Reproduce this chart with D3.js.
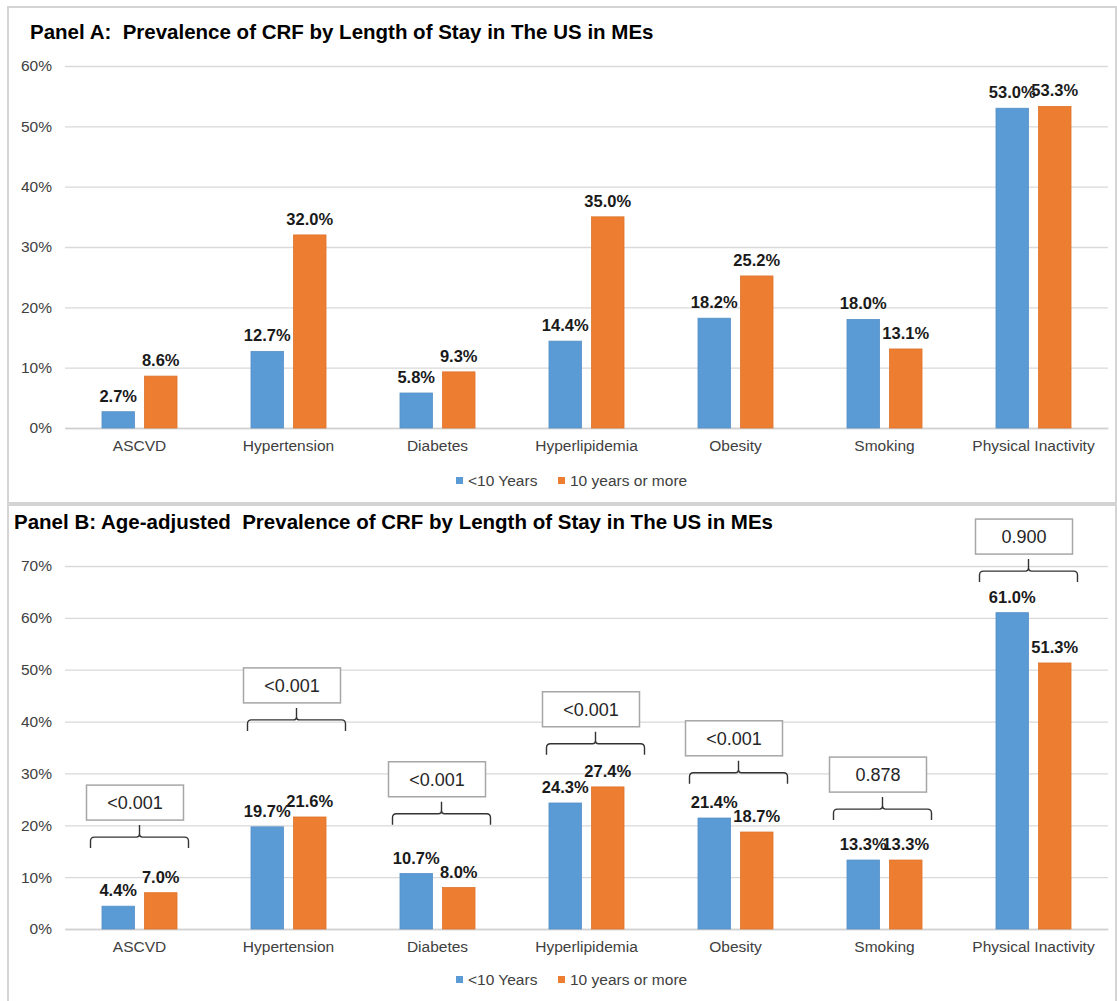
<!DOCTYPE html>
<html>
<head>
<meta charset="utf-8">
<script src="https://cdn.jsdelivr.net/npm/d3@7"></script>
<style>
  body { margin: 0; background: #fff; }
  svg { font-family: "Liberation Sans", Arial, sans-serif; }
</style>
</head>
<body>
<div id="chart"></div>
<script>
// data
const categories = ["ASCVD", "Hypertension", "Diabetes", "Hyperlipidemia", "Obesity", "Smoking", "Physical Inactivity"];
const seriesNames = ["<10 Years", "10 years or more"];

const panelA_lt10 = [2.7, 12.7, 5.8, 14.4, 18.2, 18.0, 53.0];
const panelA_ge10 = [8.6, 32.0, 9.3, 35.0, 25.2, 13.1, 53.3];

const panelB_lt10 = [4.4, 19.7, 10.7, 24.3, 21.4, 13.3, 61.0];
const panelB_ge10 = [7.0, 21.6, 8.0, 27.4, 18.7, 13.3, 51.3];

const pValues = ["<0.001", "<0.001", "<0.001", "<0.001", "<0.001", "0.878", "0.900"];
// level (in %) where the bracket tips sit, panel B
const bracketLevel = [15.6, 38.2, 20.1, 33.6, 28.0, 21.0, 66.9];
const bracketShift = [0, 8, 4, 9, 3, -2, -5];

const ticksA = [0, 10, 20, 30, 40, 50, 60];
const ticksB = [0, 10, 20, 30, 40, 50, 60, 70];

const colors = ["#5b9bd5", "#ed7d31"];

const W = 1117, H = 1001;

const svg = d3.select("#chart")
    .append("svg")
    .attr("width", W)
    .attr("height", H);

// panel frames
svg.append("rect")
    .attr("x", 8).attr("y", 7).attr("width", 1108).attr("height", 496)
    .attr("fill", "none").attr("stroke", "#d4d4d4").attr("stroke-width", 2);
svg.append("rect")
    .attr("x", 8).attr("y", 505).attr("width", 1108).attr("height", 497)
    .attr("fill", "none").attr("stroke", "#d4d4d4").attr("stroke-width", 2);

const x = d3.scaleBand()
    .domain(categories)
    .range([65, 1108]);

const x1 = d3.scaleBand()
    .domain(seriesNames)
    .range([0, x.bandwidth()])
    .paddingInner(0.235)
    .paddingOuter(0.87);

const drawPanel = (g, props) => {
    const { title, titleX, titleY, top, bottom, maxV, ticks, series, legendY } = props;

    const y = d3.scaleLinear()
        .domain([0, maxV])
        .range([bottom, top]);

    g.append("text")
        .attr("x", titleX)
        .attr("y", titleY)
        .attr("font-size", 20.5)
        .attr("font-weight", "bold")
        .attr("fill", "#000")
        .style("white-space", "pre")
        .text(title);

    // y axis + gridlines
    g.append("g")
        .attr("transform", `translate(65,0)`)
        .call(d3.axisLeft(y).tickValues(ticks).tickFormat(d => d + "%").tickSize(-(1108 - 65)).tickPadding(13))
        .call(g => g.select(".domain").remove())
        .call(g => g.selectAll(".tick line").attr("stroke", "#d9d9d9").attr("stroke-width", 1.3))
        .call(g => g.selectAll(".tick text")
            .attr("fill", "#404040")
            .attr("font-size", 15.5)
            .attr("font-family", "Liberation Sans, Arial, sans-serif"));

    // x axis
    g.append("g")
        .attr("transform", `translate(0,${bottom})`)
        .call(d3.axisBottom(x).tickSize(0).tickPadding(12))
        .call(g => g.select(".domain").attr("stroke", "#d0d0d0").attr("stroke-width", 1.3))
        .call(g => g.selectAll(".tick text")
            .attr("fill", "#404040")
            .attr("font-size", 15.5)
            .attr("font-family", "Liberation Sans, Arial, sans-serif"));

    const rows = categories.map((c, i) => ({
        cat: c,
        vals: series.map((s, j) => ({ name: seriesNames[j], v: s[i], j }))
    }));

    const groups = g.append("g")
        .selectAll("g")
        .data(rows)
        .join("g")
        .attr("transform", d => `translate(${x(d.cat)},0)`);

    groups.selectAll("rect")
        .data(d => d.vals)
        .join("rect")
        .attr("x", d => x1(d.name))
        .attr("y", d => y(d.v))
        .attr("width", x1.bandwidth())
        .attr("height", d => y(0) - y(d.v))
        .attr("fill", d => colors[d.j])
        .attr("stroke", d => d3.color(colors[d.j]).darker(0.2))
        .attr("stroke-width", 0.8);

    groups.selectAll("text.val")
        .data(d => d.vals)
        .join("text")
        .attr("class", "val")
        .attr("x", d => x1(d.name) + x1.bandwidth() / 2)
        .attr("y", d => y(d.v) - 10)
        .attr("text-anchor", "middle")
        .attr("font-size", 16.5)
        .attr("font-weight", "bold")
        .attr("fill", "#1a1a1a")
        .text(d => d.v.toFixed(1) + "%");

    // legend
    const legend = g.append("g").attr("transform", `translate(0,${legendY})`);
    const legendX = [456, 558];
    seriesNames.forEach((s, j) => {
        legend.append("rect")
            .attr("x", legendX[j]).attr("y", -4)
            .attr("width", 7).attr("height", 7)
            .attr("fill", colors[j]);
        legend.append("text")
            .attr("x", legendX[j] + 12)
            .attr("y", 5)
            .attr("font-size", 15.5)
            .attr("fill", "#404040")
            .text(s);
    });

    return y;
};

const gA = svg.append("g");
drawPanel(gA, {
    title: "Panel A:  Prevalence of CRF by Length of Stay in The US in MEs",
    titleX: 30, titleY: 39,
    top: 66, bottom: 428, maxV: 60, ticks: ticksA,
    series: [panelA_lt10, panelA_ge10],
    legendY: 481
});

const gB = svg.append("g");
const yB = drawPanel(gB, {
    title: "Panel B: Age-adjusted  Prevalence of CRF by Length of Stay in The US in MEs",
    titleX: 14, titleY: 529,
    top: 566, bottom: 929, maxV: 70, ticks: ticksB,
    series: [panelB_lt10, panelB_ge10],
    legendY: 980
});

// p-value brackets, panel B
const brackets = gB.append("g")
    .selectAll("g")
    .data(categories.map((c, i) => ({ cat: c, p: pValues[i], level: bracketLevel[i], dx: bracketShift[i] })))
    .join("g")
    .attr("transform", d => `translate(${x(d.cat) + x.bandwidth() / 2 + d.dx},${yB(d.level)})`);

const halfW = 49;
brackets.append("path")
    .attr("fill", "none")
    .attr("stroke", "#333")
    .attr("stroke-width", 1.4)
    .attr("d", () => {
        const yh = -11, yt = -23, r = 4;
        return `M${-halfW},0 L${-halfW},${yh + r} Q${-halfW},${yh} ${-halfW + r},${yh}` +
            ` L${-3},${yh} Q0,${yh} 0,${yh - 3} L0,${yt}` +
            ` M0,${yh - 3} Q0,${yh} 3,${yh} L${halfW - r},${yh} Q${halfW},${yh} ${halfW},${yh + r} L${halfW},0`;
    });

brackets.append("rect")
    .attr("x", -4.5 - 48.5)
    .attr("y", -63)
    .attr("width", 97)
    .attr("height", 35)
    .attr("fill", "#fff")
    .attr("stroke", "#a6a6a6")
    .attr("stroke-width", 1.5);

brackets.append("text")
    .attr("x", -4.5)
    .attr("y", -39)
    .attr("text-anchor", "middle")
    .attr("font-size", 18)
    .attr("fill", "#262626")
    .text(d => d.p);
</script>
</body>
</html>
